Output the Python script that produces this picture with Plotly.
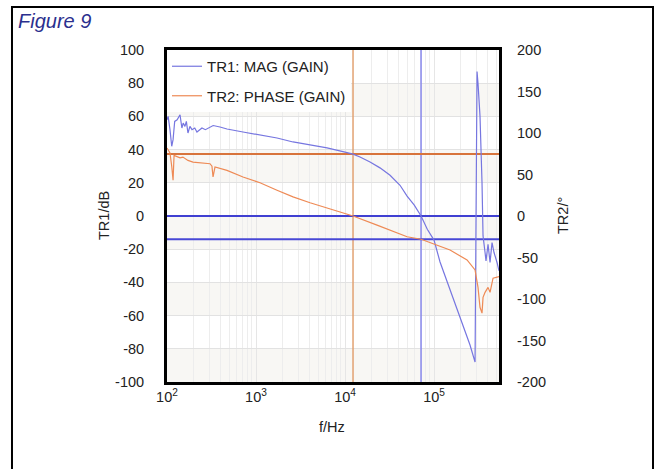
import plotly.graph_objects as go

# ---- data ----
gain_freq = [100, 103, 108, 113, 117, 122, 130, 140, 147, 152, 159, 165, 172, 181, 191,
             205, 217, 235, 247, 270, 304, 330, 394, 472, 714, 1109, 1722, 2606, 4045,
             6281, 10000, 12300, 14740, 19100, 24700, 32050, 41500, 49800, 60000, 71500,
             84000, 100000, 116800, 151300, 195900, 253700, 289000, 304200, 312000,
             328600, 346000, 355400, 374300, 383800, 404500, 425900, 448600, 472300,
             510400, 537000]
gain_db = [58, 60, 52, 42, 46, 57, 58, 61, 53, 56, 54, 57, 50, 54, 52,
           53, 50.6, 52, 53, 52, 53.6, 54.5, 53.6, 52.4, 50.6, 48.8, 47, 44.6, 42.8,
           41, 38.5, 37.3, 35.5, 32.5, 29, 24.5, 18.5, 12, 6.5, 0,
           -8, -14.5, -27.7, -44, -60.8, -77.7, -88, 87, 80,
           60, 20, -12, -22, -27, -17, -28, -16, -22,
           -28, -33]

phase_freq = [100, 103, 108, 113, 117, 120, 130, 140, 151, 172, 196, 235, 304, 320, 329,
              346, 472, 714, 1109, 1722, 2606, 4045, 6281, 12300, 22900, 49800, 71500,
              100000, 151300, 235000, 289000, 312000, 328600, 346000, 355400, 374300,
              404500, 425900, 460300, 537000]
phase_deg = [82, 80, 76, 60, 43, 73, 71, 70, 71, 67, 65, 64, 63, 60, 47,
             59, 55, 47, 40, 31, 23, 16, 9.6, 0, -11, -25, -28,
             -34, -41, -53, -65, -86, -110, -117, -98, -92,
             -86, -92, -75, -73]

# cursor readings
f_phase_cross = 12300      # Hz, phase = 0
gain_at_phase_cross = 37.3  # dB
f_gain_cross = 71500       # Hz, gain = 0 dB
phase_at_gain_cross = -28   # deg (drawn on dB scale as -14)

y1_ticks = [100, 80, 60, 40, 20, 0, -20, -40, -60, -80, -100]
y1_text = ["100", "80", "60", "40", "20", "0", "-20", "-40", "-60", "-80", "-100"]
y2_ticks = [200, 150, 100, 50, 0, -50, -100, -150, -200]
y2_text = ["200", "150", "100", "50", "0", "-50", "-100", "-150", "-200"]
x_ticks = [100, 1000, 10000, 100000]
x_tick_text = ["10<sup>2</sup>", "10<sup>3</sup>", "10<sup>4</sup>", "10<sup>5</sup>"]
x_minor = [m * d for d in [100, 1000, 10000, 100000] for m in range(2, 10)]

FONT = "Liberation Sans, Arial, sans-serif"
BLUE = "#7676E0"
ORANGE = "#EE8A55"

fig = go.Figure()

# cursor lines
fig.add_trace(go.Scatter(x=[f_phase_cross, f_phase_cross], y=[-100, 100], mode="lines",
                         line=dict(color="#E2A272", width=1.5), showlegend=False, hoverinfo="skip"))
fig.add_trace(go.Scatter(x=[f_gain_cross, f_gain_cross], y=[-100, 100], mode="lines",
                         line=dict(color="#8888EC", width=1.5), showlegend=False, hoverinfo="skip"))
fig.add_trace(go.Scatter(x=[100, 537000], y=[gain_at_phase_cross] * 2, mode="lines",
                         line=dict(color="#D8743C", width=2), showlegend=False, hoverinfo="skip"))
fig.add_trace(go.Scatter(x=[100, 537000], y=[0, 0], mode="lines",
                         line=dict(color="#4040D2", width=2.2), showlegend=False, hoverinfo="skip"))
fig.add_trace(go.Scatter(x=[100, 537000], y=[phase_at_gain_cross / 2] * 2, mode="lines",
                         line=dict(color="#4848D6", width=2), showlegend=False, hoverinfo="skip"))

fig.add_trace(go.Scatter(x=gain_freq, y=gain_db, mode="lines", name="TR1: MAG (GAIN)",
                         legendgroup="g1", line=dict(color=BLUE, width=1.2)))
fig.add_trace(go.Scatter(x=phase_freq, y=phase_deg, mode="lines", name="TR2: PHASE (GAIN)",
                         legendgroup="g2", yaxis="y2", line=dict(color=ORANGE, width=1.2)))

# alternating background bands
shapes = []
for i in range(len(y1_ticks) - 1):
    if i % 2 == 1:
        shapes.append(dict(type="rect", xref="paper", yref="y", x0=0, x1=1,
                           y0=y1_ticks[i + 1], y1=y1_ticks[i], fillcolor="#F8F7F4",
                           line=dict(width=0), layer="below"))
# outer frame
shapes.append(dict(type="rect", xref="paper", yref="paper", x0=-0.4669, x1=1.4639,
                   y0=-0.3, y1=1.1295, line=dict(color="black", width=2)))

fig.update_layout(
    width=654, height=469,
    margin=dict(l=167, r=155, t=50, b=87),
    paper_bgcolor="white", plot_bgcolor="white",
    font=dict(family=FONT, size=14.5, color="#222"),
    shapes=shapes,
    showlegend=True,
    legend=dict(x=0, y=1, xanchor="left", yanchor="top", bgcolor="white",
                font=dict(size=15, color="#222"), traceorder="grouped",
                tracegroupgap=7, itemwidth=30),
    xaxis=dict(type="log", range=[2, 5.73], tickvals=x_ticks, ticktext=x_tick_text,
               showgrid=True, gridcolor="#E6E6E6", gridwidth=1,
               minor=dict(tickvals=x_minor, showgrid=True, gridcolor="#EDEDED", gridwidth=1),
               showline=True, linecolor="black", linewidth=3, mirror=True,
               ticks="", zeroline=False, ticklabelstandoff=0),
    yaxis=dict(range=[-100, 100], tickvals=y1_ticks, ticktext=y1_text, showgrid=True,
               gridcolor="#E2E2E2", gridwidth=1, zeroline=False, showline=True,
               linecolor="black", linewidth=3, mirror=True, ticks="", ticklabelstandoff=17),
    yaxis2=dict(range=[-200, 200], tickvals=y2_ticks, ticktext=y2_text, overlaying="y",
                side="right", showgrid=False, zeroline=False, ticks="", ticklabelstandoff=17),
    annotations=[
        dict(text="<i>Figure 9</i>", xref="paper", yref="paper", x=-0.4548, y=1.1265,
             xanchor="left", yanchor="top", showarrow=False,
             font=dict(family=FONT, size=20, color="#2B2F8E")),
        dict(text="TR1/dB", xref="paper", yref="paper", x=-0.1898, y=0.503,
             xanchor="center", yanchor="middle",
             textangle=-90, showarrow=False, font=dict(size=14.5, color="#222")),
        dict(text="TR2/°", xref="paper", yref="paper", x=1.1928, y=0.50,
             xanchor="center", yanchor="middle",
             textangle=-90, showarrow=False, font=dict(size=14.5, color="#222")),
        dict(text="f/Hz", xref="paper", yref="paper", x=0.497, y=-0.1355,
             xanchor="center", yanchor="middle",
             showarrow=False, font=dict(size=14.5, color="#222")),
    ],
)

fig.write_html("out.html", config={"displayModeBar": False},
               post_script="document.body.style.margin='0';document.body.style.overflow='hidden';")
